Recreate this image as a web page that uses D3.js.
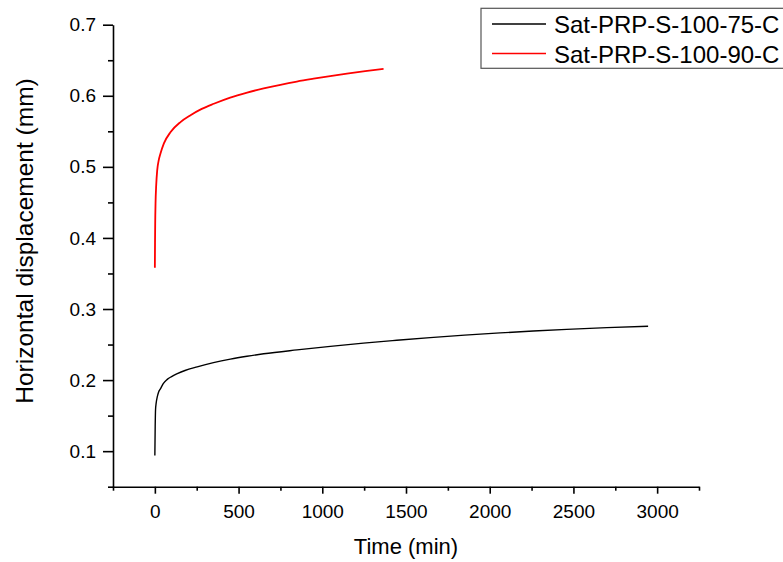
<!DOCTYPE html>
<html>
<head>
<meta charset="utf-8">
<script src="https://cdn.jsdelivr.net/npm/d3@7"></script>
<style>
  html, body { margin: 0; padding: 0; background: #fff; overflow: hidden; }
  svg { display: block; font-family: "Liberation Sans", Arial, sans-serif; }
</style>
</head>
<body>
<svg id="chart" width="783" height="562"></svg>
<script>
// Creep curves: horizontal displacement vs. time
const seriesNames = ["Sat-PRP-S-100-75-C", "Sat-PRP-S-100-90-C"];
const seriesColors = ["#000000", "#ff0000"];

const time75 = [0, 2, 4, 8, 14, 22, 34, 50, 74, 100, 134, 180, 253, 350, 451, 550, 650, 849, 1048, 1246, 1445, 1644, 1850, 2062, 2260, 2460, 2700, 2946];
const disp75 = [0.094, 0.135, 0.158, 0.168, 0.176, 0.183, 0.188, 0.195, 0.201, 0.205, 0.209, 0.2135, 0.2186, 0.2245, 0.2295, 0.2335, 0.2370, 0.2425, 0.2475, 0.2520, 0.2560, 0.2598, 0.2633, 0.2664, 0.2690, 0.2713, 0.2738, 0.2758];

const time90 = [0, 1, 2, 4, 8, 14, 22, 34, 54, 94, 153, 213, 280, 352, 450, 551, 650, 750, 848, 948, 1047, 1147, 1256, 1366];
const disp90 = [0.358, 0.394, 0.420, 0.448, 0.474, 0.495, 0.508, 0.519, 0.533, 0.549, 0.563, 0.5726, 0.5815, 0.5888, 0.5975, 0.6045, 0.6103, 0.6155, 0.6200, 0.6240, 0.6277, 0.6312, 0.6347, 0.6380];

const xTicks = [0, 500, 1000, 1500, 2000, 2500, 3000];
const xMinorTicks = [-250, 250, 750, 1250, 1750, 2250, 2750, 3250];
const yTicks = [0.1, 0.2, 0.3, 0.4, 0.5, 0.6, 0.7];
const yMinorTicks = [0.05, 0.15, 0.25, 0.35, 0.45, 0.55, 0.65];

const xLabel = "Time (min)";
const yLabel = "Horizontal displacement (mm)";

const svg = d3.select("#chart");
const plotLeft = 113, plotRight = 699, plotTop = 24.7, plotBottom = 486.7;

const x = d3.scaleLinear().domain([-250, 3250]).range([plotLeft, plotRight]);
const y = d3.scaleLinear().domain([0.05, 0.7]).range([plotBottom, plotTop]);

const series = [
  { name: seriesNames[0], color: seriesColors[0], t: time75, v: disp75, width: 1.4 },
  { name: seriesNames[1], color: seriesColors[1], t: time90, v: disp90, width: 1.8 }
];

// data lines
const lineGen = d3.line()
  .x(d => x(d[0]))
  .y(d => y(d[1]))
  .curve(d3.curveMonotoneX);

series.forEach(s => {
  svg.append("path")
    .datum(s.t.map((t, i) => [t, s.v[i]]))
    .style("fill", "none")
    .style("stroke", s.color)
    .style("stroke-width", s.width)
    .style("stroke-linejoin", "round")
    .attr("d", lineGen);
});

// axes
const axisStroke = 1.6;

const gx = svg.append("g").attr("class", "axis").attr("transform", `translate(0,${plotBottom})`);
gx.call(d3.axisBottom(x).tickValues(xMinorTicks).tickSize(4).tickSizeOuter(0).tickFormat(""));
const gxMajor = svg.append("g").attr("class", "axis").attr("transform", `translate(0,${plotBottom})`)
  .call(d3.axisBottom(x).tickValues(xTicks).tickSize(7).tickSizeOuter(0).tickPadding(11).tickFormat(d3.format("d")));
gxMajor.select(".domain").remove();

const gy = svg.append("g").attr("class", "axis").attr("transform", `translate(${plotLeft},0)`);
gy.call(d3.axisLeft(y).tickValues(yMinorTicks).tickSize(5).tickSizeOuter(0).tickFormat(""));
const gyMajor = svg.append("g").attr("class", "axis").attr("transform", `translate(${plotLeft},0)`)
  .call(d3.axisLeft(y).tickValues(yTicks).tickSize(10).tickSizeOuter(0).tickPadding(7).tickFormat(d3.format(".1f")));
gyMajor.select(".domain").remove();

svg.selectAll(".axis .domain").attr("stroke", "#000").attr("stroke-width", axisStroke);
svg.selectAll(".axis .tick line").attr("stroke", "#000").attr("stroke-width", axisStroke);
svg.selectAll(".axis .tick text")
  .attr("fill", "#000")
  .style("font-size", "19px")
  .style("font-family", "'Liberation Sans', Arial, sans-serif");

// axis titles
svg.append("text")
  .attr("x", (plotLeft + plotRight) / 2)
  .attr("y", 554)
  .attr("text-anchor", "middle")
  .style("font-size", "22px")
  .text(xLabel);

svg.append("text")
  .attr("transform", "translate(33,241) rotate(-90)")
  .attr("text-anchor", "middle")
  .style("font-size", "24.5px")
  .text(yLabel);

// legend
const legend = svg.append("g");
legend.append("rect")
  .attr("x", 481).attr("y", 8.3)
  .attr("width", 340).attr("height", 60)
  .style("fill", "#fff")
  .style("stroke", "#555")
  .style("stroke-width", 1.2);

series.forEach((s, i) => {
  const ly = 24 + i * 29.5;
  legend.append("path")
    .attr("d", `M492,${ly}H546`)
    .style("fill", "none")
    .style("stroke", s.color)
    .style("stroke-width", 1.3);
  legend.append("text")
    .attr("x", 554)
    .attr("y", ly + 9)
    .style("font-size", "24px")
    .style("fill", "#000")
    .text(s.name);
});
</script>
</body>
</html>
